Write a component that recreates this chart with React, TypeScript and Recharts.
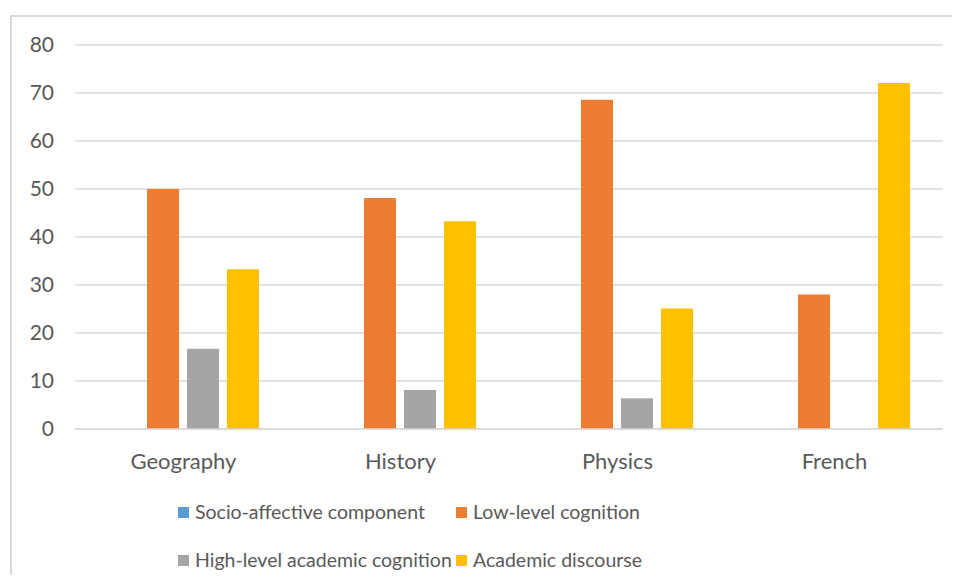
import React from "react";
import { BarChart, Bar, XAxis, YAxis, CartesianGrid, Legend } from "recharts";

const categories = ["Geography", "History", "Physics", "French"];
const socioAffective = [0, 0, 0, 0];
const lowLevel = [50, 48.1, 68.6, 28];
const highLevel = [16.7, 8.1, 6.4, 0];
const academicDiscourse = [33.3, 43.3, 25.1, 72.1];
const yTicks = [0, 10, 20, 30, 40, 50, 60, 70, 80];

const seriesNames = [
  "Socio-affective component",
  "Low-level cognition",
  "High-level academic cognition",
  "Academic discourse",
];
const seriesKeys = ["socio", "low", "high", "disc"];
const seriesColors = ["#5B9BD5", "#ED7D31", "#A5A5A5", "#FFC000"];

const data = categories.map((c, i) => ({
  name: c,
  socio: socioAffective[i],
  low: lowLevel[i],
  high: highLevel[i],
  disc: academicDiscourse[i],
}));

const FONT = "Lato, 'Open Sans', sans-serif";
const TEXT = "#595959";

const legendPos = [
  { left: 178, top: 0 },
  { left: 456, top: 0 },
  { left: 178, top: 48 },
  { left: 456, top: 48 },
];

const renderLegend = () => (
  <div style={{ position: "relative", height: 0, width: 960 }}>
    {seriesNames.map((n, i) => (
      <div
        key={n}
        style={{
          position: "absolute",
          left: legendPos[i].left,
          top: legendPos[i].top,
          display: "flex",
          alignItems: "center",
          whiteSpace: "nowrap",
          fontFamily: FONT,
          fontSize: 19.5,
          color: TEXT,
          lineHeight: "24px",
        }}
      >
        <span
          style={{
            display: "inline-block",
            width: 11,
            height: 11,
            background: seriesColors[i],
            marginRight: 6,
          }}
        />
        {n}
      </div>
    ))}
  </div>
);

export default function App() {
  return (
    <div
      style={{
        position: "relative",
        width: 960,
        height: 583,
        margin: -8,
        overflow: "hidden",
        background: "#fff",
      }}
    >
      <div
        style={{
          position: "absolute",
          left: 10,
          top: 15,
          width: 1000,
          height: 700,
          borderLeft: "2px solid #D9D9D9",
          borderTop: "2px solid #D9D9D9",
        }}
      />
      <div style={{ position: "absolute", left: 0, top: 0 }}>
        <BarChart
          width={960}
          height={583}
          data={data}
          margin={{ top: 45, right: 17, left: 0, bottom: 0 }}
          barCategoryGap={32}
          barGap={8}
        >
          <CartesianGrid vertical={false} stroke="#D9D9D9" strokeWidth={1.5} />
          <XAxis
            dataKey="name"
            height={154}
            tickLine={false}
            axisLine={{ stroke: "#D9D9D9", strokeWidth: 1.5 }}
            tickMargin={18}
            tick={{ fill: TEXT, fontSize: 22, fontFamily: FONT }}
          />
          <YAxis
            width={75}
            domain={[0, 80]}
            ticks={yTicks}
            axisLine={false}
            tickLine={false}
            tickMargin={15}
            tick={{ fill: TEXT, fontSize: 21, fontFamily: FONT }}
            interval={0}
          />
          <Legend
            verticalAlign="bottom"
            content={renderLegend}
            wrapperStyle={{ position: "absolute", left: 0, top: 500, width: 960 }}
          />
          {seriesKeys.map((k, i) => (
            <Bar
              key={k}
              dataKey={k}
              name={seriesNames[i]}
              fill={seriesColors[i]}
              isAnimationActive={false}
            />
          ))}
        </BarChart>
      </div>
    </div>
  );
}
